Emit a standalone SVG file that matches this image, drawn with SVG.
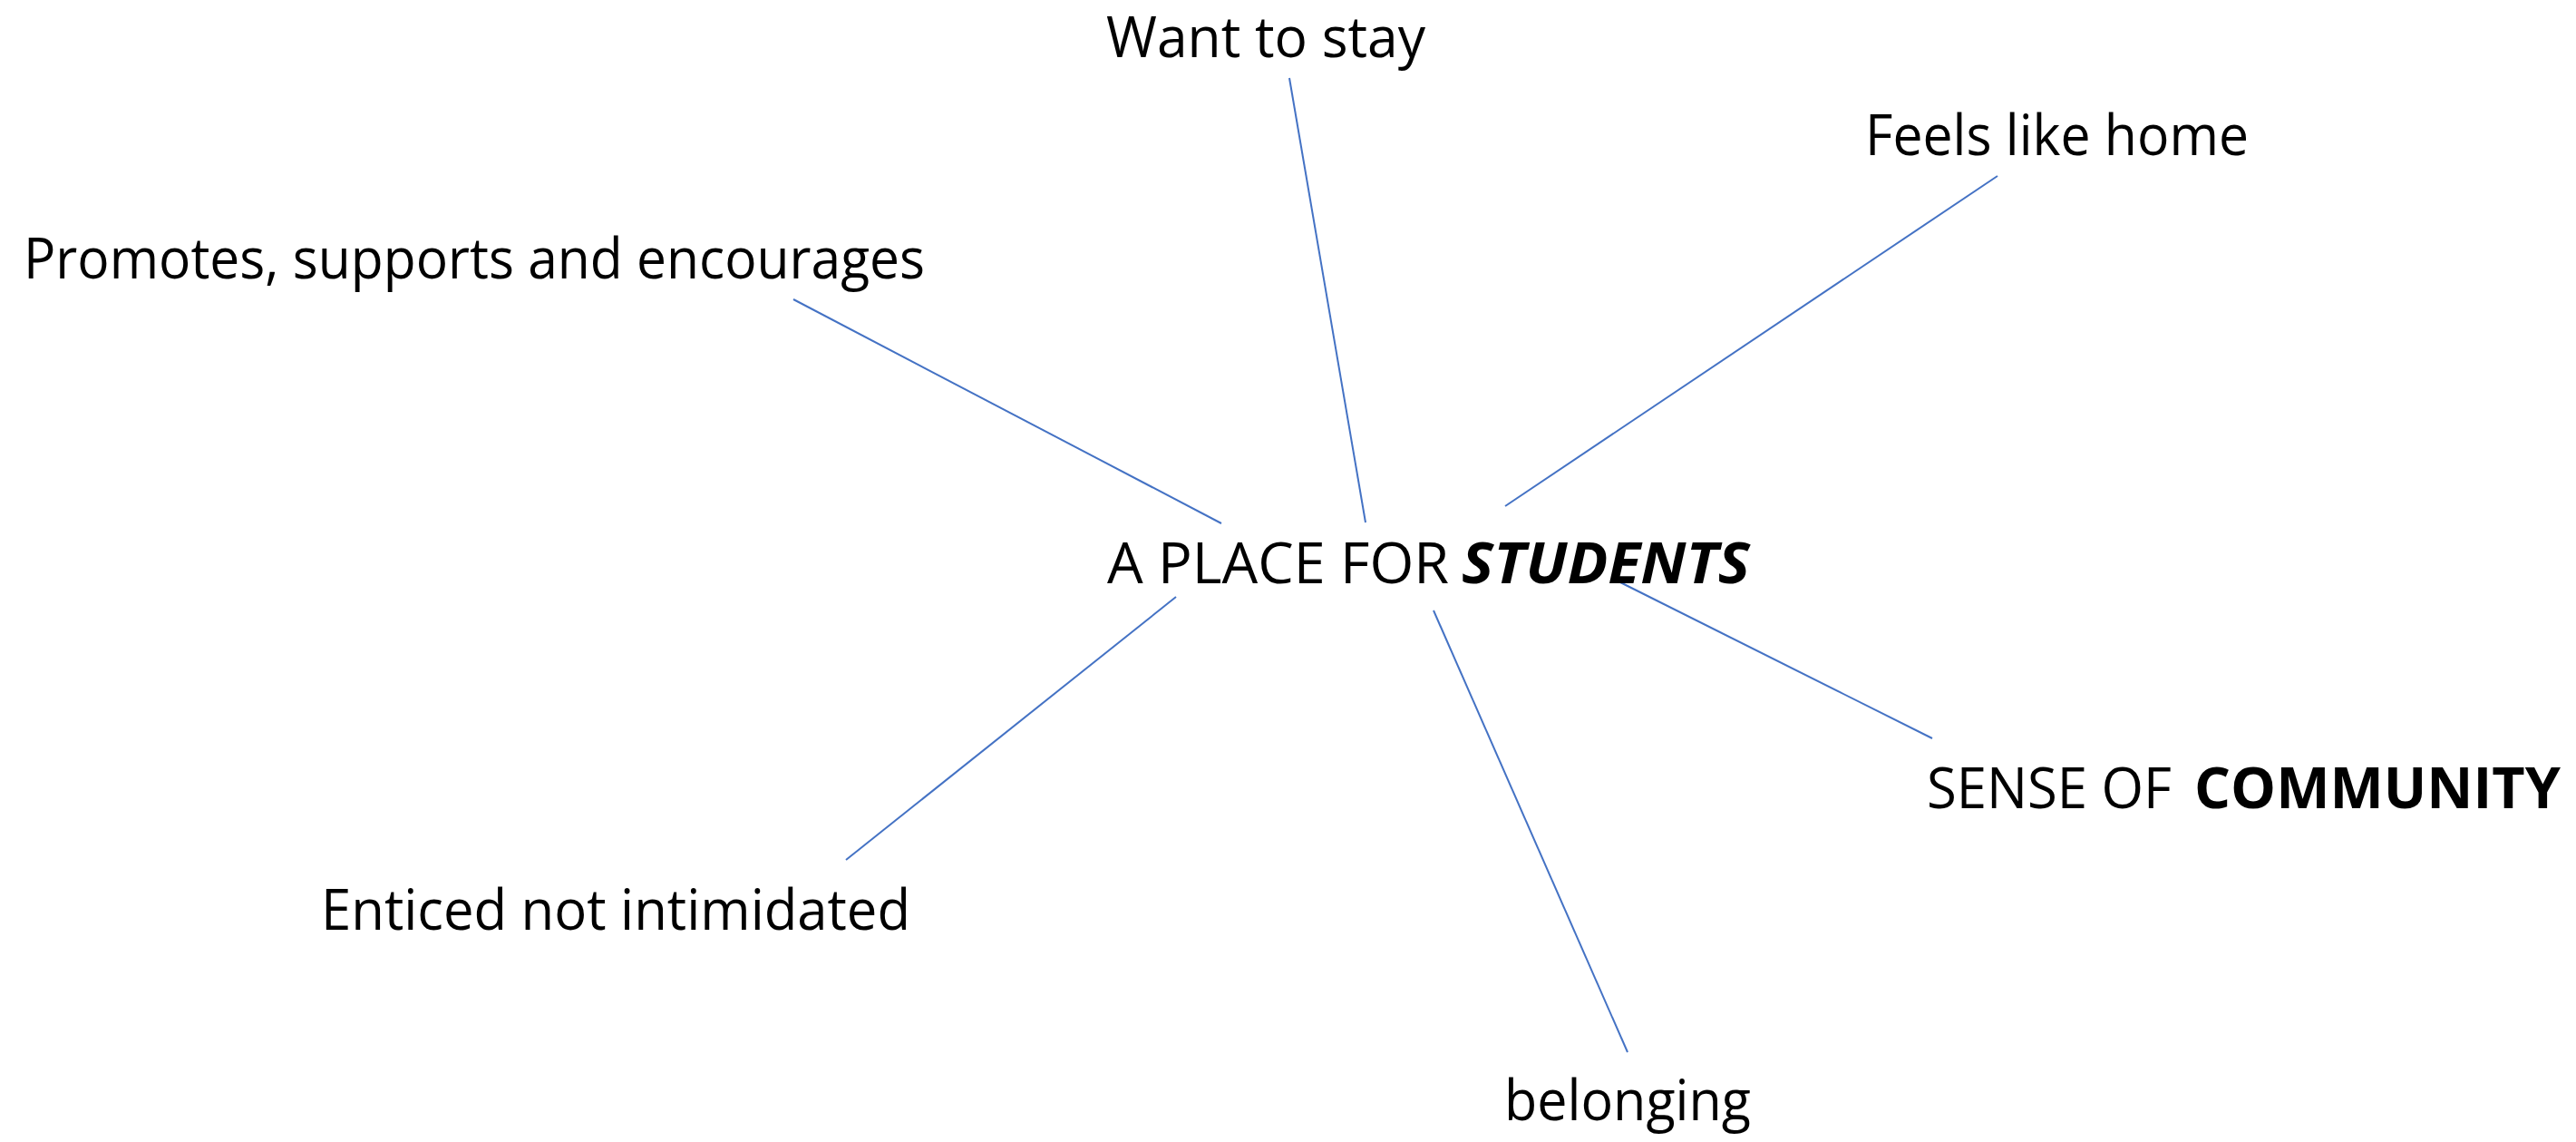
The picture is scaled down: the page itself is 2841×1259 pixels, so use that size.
<svg xmlns="http://www.w3.org/2000/svg" width="2841" height="1259" viewBox="0 0 2841 1259">
<style>
.lbl{font-family:"Open Sans","Noto Sans","Liberation Sans",sans-serif;font-size:62px;fill:#000}
.b{font-weight:bold}
.bi{font-weight:bold;font-style:italic}
.conn line{stroke:#4472C4;stroke-width:2;fill:none}
</style>
<rect width="2841" height="1259" fill="#fff"/>
<g id="connectors" class="conn">
<line x1="1422" y1="86" x2="1506" y2="576"/>
<line x1="2203" y1="194" x2="1660" y2="558"/>
<line x1="875" y1="330" x2="1347" y2="577"/>
<line x1="1297" y1="658" x2="933" y2="948"/>
<line x1="1581" y1="673" x2="1795" y2="1160"/>
<line x1="1783" y1="640" x2="2131" y2="814"/>
</g>
<g id="center">
<text class="lbl" x="1221" y="643" textLength="377" lengthAdjust="spacingAndGlyphs">A PLACE FOR</text>
<text class="lbl bi" x="1612" y="643" textLength="318" lengthAdjust="spacingAndGlyphs">STUDENTS</text>
</g>
<g id="want-to-stay"><text class="lbl" x="1220" y="63" textLength="352" lengthAdjust="spacingAndGlyphs">Want to stay</text></g>
<g id="feels-like-home"><text class="lbl" x="2057" y="171" textLength="423" lengthAdjust="spacingAndGlyphs">Feels like home</text></g>
<g id="promotes"><text class="lbl" x="26" y="307" textLength="994" lengthAdjust="spacingAndGlyphs">Promotes, supports and encourages</text></g>
<g id="community">
<text class="lbl" x="2125" y="891" textLength="270" lengthAdjust="spacingAndGlyphs">SENSE OF</text>
<text class="lbl b" x="2420" y="891" textLength="404" lengthAdjust="spacingAndGlyphs">COMMUNITY</text>
</g>
<g id="enticed"><text class="lbl" x="354" y="1025" textLength="650" lengthAdjust="spacingAndGlyphs">Enticed not intimidated</text></g>
<g id="belonging"><text class="lbl" x="1659" y="1235" textLength="272" lengthAdjust="spacingAndGlyphs">belonging</text></g>
</svg>
